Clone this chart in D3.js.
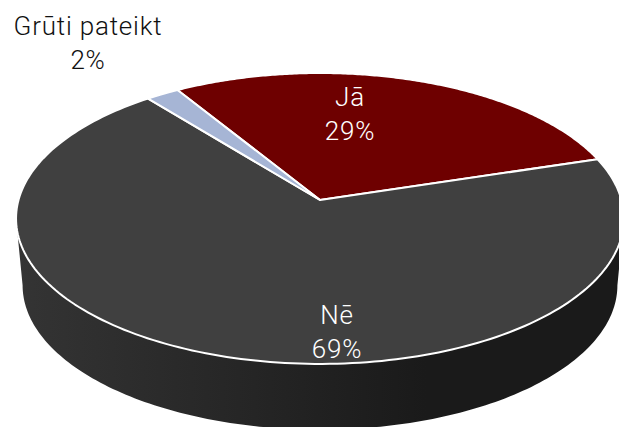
<!DOCTYPE html>
<html lang="lv">
<head>
<meta charset="UTF-8" />
<title>Pie</title>
<script src="https://cdn.jsdelivr.net/npm/d3@7"></script>
<style>
    body { margin: 0; background: #fff; }
    svg { display: block; }
    text { font-family: Roboto, sans-serif; font-weight: 300; font-size: 26px; letter-spacing: 0.8px; text-anchor: middle; }
</style>
</head>
<body>
<script>
    const categories = ['Jā', 'Nē', 'Grūti pateikt'];
    const values = [29, 69, 2];
    const colors = ['#6e0000', '#404040', '#a6b5d5'];
    const labelColors = ['#fff', '#fff', '#111'];

    const width = 619, height = 427;
    const startDeg = -31.6;

    // perspective of the tilted disc: apex of the slices, back/front foreshortening
    const top3d = { x0: 320, y0: 200, a: 301.5, b: 143.1, k: 0.127 };
    const bottom3d = { x0: 320, y0: 267, a: 295, b: 142, k: 0.127 };

    const project = (p, t) => {
        const u = Math.sin(t), v = Math.cos(t), w = 1 + p.k * v;
        return [p.x0 + p.a * u / w, p.y0 - p.b * v / w];
    };

    const svg = d3.select('body').append('svg')
        .attr('width', width)
        .attr('height', height);

    const grad = svg.append('defs').append('linearGradient')
        .attr('id', 'side')
        .attr('gradientUnits', 'userSpaceOnUse')
        .attr('x1', 17).attr('x2', 619).attr('y1', 0).attr('y2', 0);
    grad.append('stop').attr('offset', '0').attr('stop-color', '#343434');
    grad.append('stop').attr('offset', '0.5').attr('stop-color', '#212121');
    grad.append('stop').attr('offset', '0.68').attr('stop-color', '#1a1a1a');
    grad.append('stop').attr('offset', '1').attr('stop-color', '#1a1a1a');

    const pie = d3.pie().sort(null)
        .startAngle(startDeg * Math.PI / 180)
        .endAngle(startDeg * Math.PI / 180 + 2 * Math.PI);
    const arcs = pie(values);

    const line = d3.line();
    const sweep = (t0, t1, n) => d3.range(n + 1).map(i => t0 + (t1 - t0) * i / n);

    // wall of the disc between the two side tangents, the top face is painted over it
    const tangent = Math.acos(-top3d.k);
    const front = sweep(tangent, 2 * Math.PI - tangent, 160);
    const wall = front.map(t => project(top3d, t))
        .concat(front.slice().reverse().map(t => project(bottom3d, t)));
    svg.append('path')
        .attr('d', line(wall) + 'Z')
        .attr('fill', 'url(#side)');

    svg.append('g').selectAll('path')
        .data(arcs)
        .join('path')
        .attr('d', d => {
            const rim = sweep(d.startAngle, d.endAngle, 200).map(t => project(top3d, t));
            return line([[top3d.x0, top3d.y0], ...rim]) + 'Z';
        })
        .attr('fill', (d, i) => colors[i])
        .attr('stroke', '#fff')
        .attr('stroke-width', 2)
        .attr('stroke-linejoin', 'round');

    const labelAt = [[350, 106], [337, 324], [88, 35]];
    const labels = svg.append('g').selectAll('text')
        .data(categories)
        .join('text')
        .attr('fill', (d, i) => labelColors[i]);
    labels.append('tspan')
        .attr('x', (d, i) => labelAt[i][0])
        .attr('y', (d, i) => labelAt[i][1])
        .text(d => d);
    labels.append('tspan')
        .attr('x', (d, i) => labelAt[i][0])
        .attr('y', (d, i) => labelAt[i][1] + 34)
        .text((d, i) => values[i] + '%');
</script>
</body>
</html>
